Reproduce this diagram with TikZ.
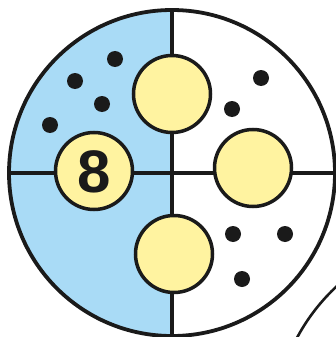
\documentclass[tikz,border=0pt]{standalone}
\usepackage{fontspec}
\setmainfont{Liberation Sans}
\definecolor{quadblue}{HTML}{A9DBF6}
\definecolor{ballyellow}{HTML}{FFF3A0}
\definecolor{inkdark}{HTML}{1A1A1A}
\begin{document}
\begin{tikzpicture}[x=1pt,y=-1pt,
  ring/.style={draw=inkdark,line width=3.8pt},
  ball/.style={circle,draw=inkdark,line width=3.5pt,fill=ballyellow,minimum size=77pt,inner sep=0pt,font=\bfseries\fontsize{60}{60}\selectfont,text=inkdark},
  dot/.style={circle,fill=inkdark,minimum size=16pt,inner sep=0pt}]
\useasboundingbox (0,0) rectangle (336,337);
\begin{scope}
\clip (0,0) rectangle (336,337);
% blue left half
\begin{scope}
\clip (0,0) rectangle (172,337);
\fill[quadblue] (172,173) circle[radius=163];
\end{scope}
% outer disc
\draw[ring] (172,173) circle[radius=163];
% dividers
\coordinate (top) at (172,10);
\coordinate (bot) at (172,336);
\coordinate (lft) at (9,173);
\coordinate (rgt) at (335,173);
\draw[ring] (top) -- (bot);
\draw[ring] (lft) -- (rgt);
% neighbouring disc, partly visible
\draw[draw=inkdark,line width=2.6pt] (470,430) circle[radius=196];
\end{scope}
% yellow balls
\node[ball] (b1) at (172,94) {};
\node[ball] (b2) at (253,168) {};
\node[ball] (b3) at (174,254) {};
\node[ball] (b8) at (94,171) {\raisebox{0pt}[0.72em][0pt]{8}};
% dots
\node[dot] (d1) at (115,59) {};
\node[dot] (d2) at (75,81) {};
\node[dot] (d3) at (102,104) {};
\node[dot] (d4) at (50,125) {};
\node[dot] (d5) at (261,78) {};
\node[dot] (d6) at (232,109) {};
\node[dot] (d7) at (233,234) {};
\node[dot] (d8) at (285,234) {};
\node[dot] (d9) at (242,279) {};
\end{tikzpicture}
\end{document}
